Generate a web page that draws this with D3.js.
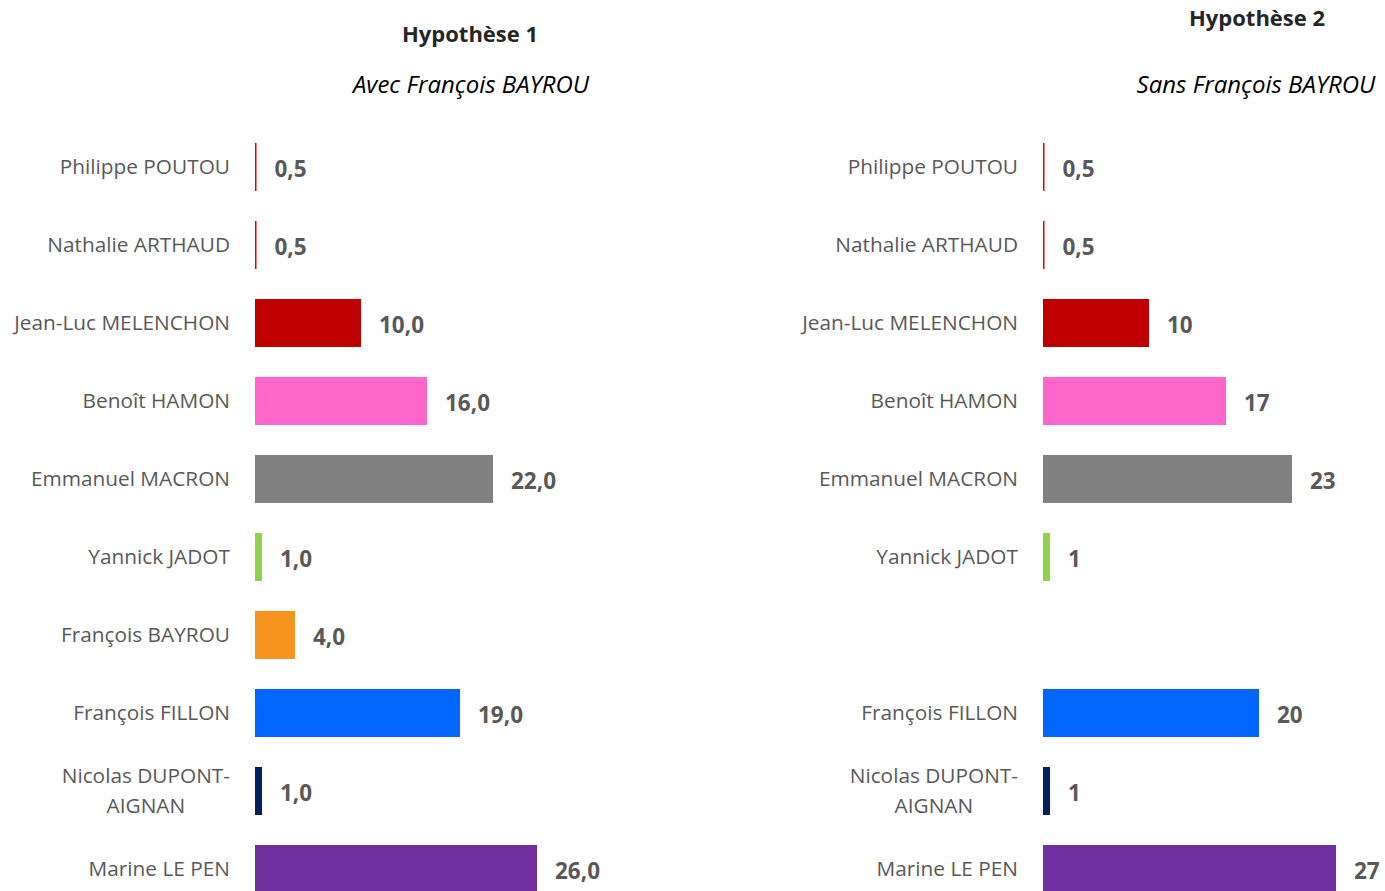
<!DOCTYPE html>
<html>
<head>
<meta charset="utf-8">
<script src="https://cdn.jsdelivr.net/npm/d3@7"></script>
<style>
  body { margin: 0; background: #fff; }
  text { font-family: "Open Sans", "Noto Sans", sans-serif; }
</style>
</head>
<body>
<svg id="drawing_region"></svg>
<script>
const candidates = ["Philippe POUTOU", "Nathalie ARTHAUD", "Jean-Luc MELENCHON", "Benoît HAMON",
    "Emmanuel MACRON", "Yannick JADOT", "François BAYROU", "François FILLON",
    "Nicolas DUPONT-\nAIGNAN", "Marine LE PEN"];
const hyp1_values = [0.5, 0.5, 10, 16, 22, 1, 4, 19, 1, 26];
const hyp2_values = [0.5, 0.5, 10, 17, 23, 1, null, 20, 1, 27];
const hyp1_labels = ["0,5", "0,5", "10,0", "16,0", "22,0", "1,0", "4,0", "19,0", "1,0", "26,0"];
const hyp2_labels = ["0,5", "0,5", "10", "17", "23", "1", "", "20", "1", "27"];
const bar_colors = ["#E00000", "#E00000", "#C00000", "#FF66CC", "#808080",
    "#92D050", "#F7941D", "#0066FF", "#002060", "#7030A0"];

const svg = d3.select('#drawing_region')
    .attr('width', 1385)
    .attr('height', 891);

const text_color = "#595959";
const name_size = '20.8px';

const yscale = d3.scaleBand()
    .domain(candidates)
    .range([128, 908])
    .paddingInner(1 / 3)
    .paddingOuter(1 / 6);

const xscale = d3.scaleLinear()
    .domain([0, 27])
    .range([0, 297]);

function drawPanel(x0, values, labels, title, subtitle, titleY) {
    const g = svg.append('g');

    const rows = candidates.map((c, i) => ({ name: c, value: values[i], label: labels[i], color: bar_colors[i] }))
        .filter(d => d.value !== null);

    // category labels, wrapped ones centered on the first line
    rows.forEach(d => {
        const lines = d.name.split("\n");
        const cy = yscale(d.name) + yscale.bandwidth() / 2;
        if (lines.length === 1) {
            g.append('text')
                .attr('x', x0 - 23)
                .attr('y', cy)
                .attr('dy', '0.35em')
                .attr('text-anchor', 'end')
                .attr('font-size', name_size)
                .attr('fill', text_color)
                .text(d.name);
        } else {
            const first = g.append('text')
                .attr('x', x0 - 23)
                .attr('y', cy - 15)
                .attr('dy', '0.35em')
                .attr('text-anchor', 'end')
                .attr('font-size', name_size)
                .attr('fill', text_color)
                .text(lines[0]);
            const w = first.node().getComputedTextLength();
            g.append('text')
                .attr('x', x0 - 23 - w / 2)
                .attr('y', cy + 15)
                .attr('dy', '0.35em')
                .attr('text-anchor', 'middle')
                .attr('font-size', name_size)
                .attr('fill', text_color)
                .text(lines[1]);
        }
    });

    g.selectAll('rect').data(rows).join('rect')
        .attr('x', x0)
        .attr('y', d => yscale(d.name))
        .attr('width', d => xscale(d.value))
        .attr('height', yscale.bandwidth())
        .attr('fill', d => d.color)
        .attr('stroke', '#fff')
        .attr('stroke-width', 4);

    g.selectAll('text.value').data(rows).join('text')
        .attr('class', 'value')
        .attr('x', d => x0 + xscale(d.value) + 16)
        .attr('y', d => yscale(d.name) + yscale.bandwidth() / 2 + 2)
        .attr('dy', '0.35em')
        .attr('font-size', '22.5px')
        .attr('font-weight', 'bold')
        .attr('fill', text_color)
        .text(d => d.label);

    g.append('text')
        .attr('x', title.x)
        .attr('y', titleY)
        .attr('text-anchor', 'middle')
        .attr('font-size', '22px')
        .attr('font-weight', 'bold')
        .attr('fill', '#262626')
        .text(title.text);

    g.append('text')
        .attr('x', subtitle.x)
        .attr('y', 93)
        .attr('text-anchor', 'middle')
        .attr('font-size', '24px')
        .attr('font-style', 'italic')
        .attr('fill', '#000')
        .text(subtitle.text);
}

drawPanel(253, hyp1_values, hyp1_labels,
    { x: 470, text: "Hypothèse 1" }, { x: 471, text: "Avec François BAYROU" }, 42);
drawPanel(1041, hyp2_values, hyp2_labels,
    { x: 1257, text: "Hypothèse 2" }, { x: 1256, text: "Sans François BAYROU" }, 26);
</script>
</body>
</html>
